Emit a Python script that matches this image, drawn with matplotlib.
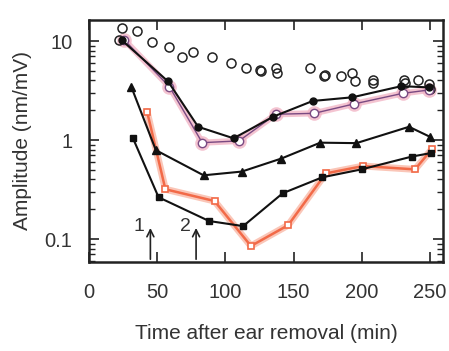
import matplotlib
matplotlib.use("Agg")
import matplotlib.pyplot as plt
import numpy as np

plt.rcParams['font.family'] = ['Liberation Sans', 'DejaVu Sans']

# open circles (scatter, no line)
open_t = [24, 35, 22, 46, 59, 68, 76, 90, 104, 115, 125.5, 126, 137, 137.5,
          162, 172, 173, 185, 193, 195, 208, 208.5, 231, 232, 241.5, 249, 250]
open_v = [13.4, 12.6, 10.2, 9.8, 8.8, 6.9, 7.8, 6.9, 6.0, 5.3, 5.1, 5.0, 5.3, 4.7,
          5.4, 4.4, 4.5, 4.4, 4.7, 3.9, 4.0, 3.8, 4.0, 3.8, 4.0, 3.7, 3.25]

# filled circles
fc_t = [24, 58, 80, 106, 135, 164, 193, 229, 249]
fc_v = [10.2, 3.9, 1.36, 1.04, 1.72, 2.48, 2.7, 3.5, 3.4]

# pink/purple open circles
pc_t = [26, 59, 83, 110, 137, 165, 194, 230, 249]
pc_v = [10.2, 3.45, 0.94, 0.98, 1.82, 1.86, 2.31, 2.96, 3.2]

# triangles
tr_t = [31, 49, 84, 112, 141, 169.5, 196, 234.6, 249.8]
tr_v = [3.45, 0.79, 0.44, 0.48, 0.65, 0.94, 0.93, 1.36, 1.08]

# filled squares
sq_t = [32, 51, 88, 113, 142, 171, 200, 236.6, 251]
sq_v = [1.06, 0.264, 0.152, 0.135, 0.29, 0.42, 0.506, 0.68, 0.74]

# orange
or_t = [42.6, 56, 92, 118.7, 146, 173.6, 201, 239, 251.4]
or_v = [1.93, 0.318, 0.242, 0.085, 0.138, 0.46, 0.546, 0.505, 0.81]

arrow_t = [45, 78.5]
arrow_lbl = ['1', '2']
arrow_tip = 0.138

xticks = [0, 50, 100, 150, 200, 250]
yticks = [0.1, 1, 10]
ytick_labels = ['0.1', '1', '10']

fig = plt.figure(figsize=(4.49, 3.51), dpi=100)
ax = fig.add_axes([89/449, 1-262/351, (443-89)/449, (262-20)/351])
ax.set_yscale('log')
ax.set_xlim(0, 259.5)
ax.set_ylim(0.0586, 16.3)

# open circles
ax.plot(open_t, open_v, 'o', ms=6.5, mfc='none', mec='#222222', mew=1.1, zorder=3)

# pink glow line
ax.plot(pc_t, pc_v, '-', color='#f2b6c6', lw=4.5, alpha=0.8, solid_capstyle='round', zorder=2)
ax.plot(pc_t, pc_v, 'o', ms=8, mfc='none', mec='#f2b6c6', mew=2.5, alpha=0.8, zorder=2)
ax.plot(pc_t, pc_v, '-o', color='#7a4a82', lw=1.0, ms=6, mfc='white', mec='#7a4a82', mew=1.0, zorder=4)

# filled circles
ax.plot(fc_t, fc_v, '-o', color='#111111', lw=1.5, ms=5, zorder=5)

# triangles
ax.plot(tr_t, tr_v, '-^', color='#111111', lw=1.5, ms=5.5, zorder=5)

# squares
ax.plot(sq_t, sq_v, '-s', color='#111111', lw=1.5, ms=4.5, zorder=5)

# orange
ax.plot(or_t, or_v, '-', color='#f9b8a6', lw=5, alpha=0.8, solid_capstyle='round', zorder=3)
ax.plot(or_t, or_v, '-s', color='#f26a48', lw=1.8, ms=4.5, mfc='white', mec='#f26a48', mew=1.2, zorder=4)

# arrows
for t, lbl in zip(arrow_t, arrow_lbl):
    ax.annotate('', xy=(t, arrow_tip), xytext=(t, 0.0586),
                arrowprops=dict(arrowstyle='->,head_length=0.5,head_width=0.25',
                                color='#222222', lw=1.2), zorder=6)
    ax.annotate(lbl, xy=(t, arrow_tip), xytext=(-4, -1), textcoords='offset points',
                ha='right', va='center', fontsize=14, color='#333333')

ax.set_xticks(xticks)
ax.set_yticks(yticks)
ax.set_yticklabels(ytick_labels)
ax.tick_params(which='both', direction='in', top=True, right=True, colors='#222222',
               labelcolor='#333333', labelsize=14.5)
ax.tick_params(which='major', length=7, width=1.2)
ax.tick_params(which='minor', length=4, width=1.0)
ax.tick_params(axis='x', which='minor', bottom=False, top=False)
ax.tick_params(axis='y', pad=12)
ax.tick_params(axis='x', pad=15)
for s in ax.spines.values():
    s.set_linewidth(1.8)
    s.set_color('#222222')

ax.set_xlabel('Time after ear removal (min)', fontsize=15, color='#333333', labelpad=16)
ax.set_ylabel('Amplitude (nm/mV)', fontsize=15, color='#333333', labelpad=9)

fig.savefig('out.png', dpi=100)
